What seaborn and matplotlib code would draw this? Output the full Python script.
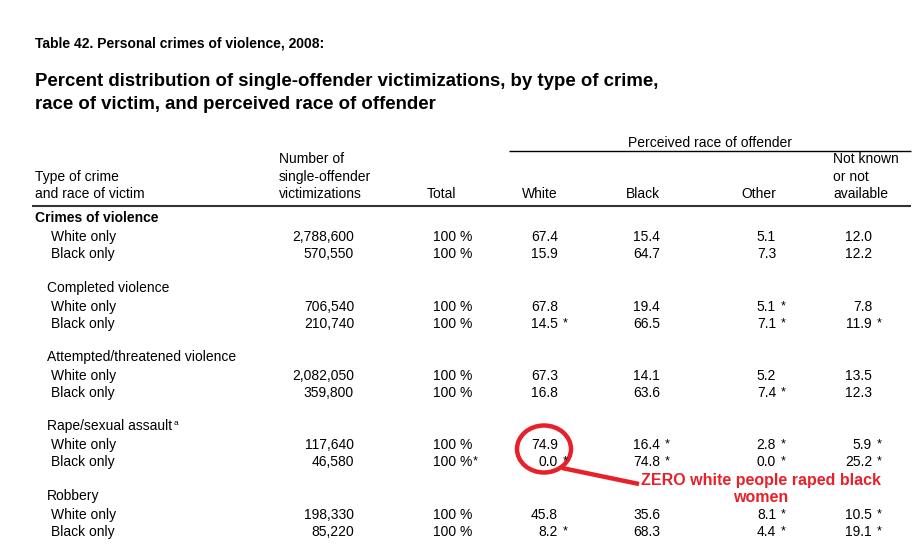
import matplotlib
matplotlib.use("Agg")
import matplotlib.pyplot as plt
from matplotlib.patches import Ellipse
import seaborn as sns

# Table 42 values
groups = ["Crimes of violence", "Completed violence", "Attempted/threatened violence",
          "Rape/sexual assault", "Robbery"]
victim_rows = ["White only", "Black only"]
counts = [["2,788,600", "570,550"], ["706,540", "210,740"], ["2,082,050", "359,800"],
          ["117,640", "46,580"], ["198,330", "85,220"]]
total_flag = [[False, False], [False, False], [False, False], [False, True], [False, False]]

white = [[67.4, 15.9], [67.8, 14.5], [67.3, 16.8], [74.9, 0.0], [45.8, 8.2]]
white_star = [[0, 0], [0, 1], [0, 0], [0, 1], [0, 1]]
black = [[15.4, 64.7], [19.4, 66.5], [14.1, 63.6], [16.4, 74.8], [35.6, 68.3]]
black_star = [[0, 0], [0, 0], [0, 0], [1, 1], [0, 0]]
other = [[5.1, 7.3], [5.1, 7.1], [5.2, 7.4], [2.8, 0.0], [8.1, 4.4]]
other_star = [[0, 0], [1, 1], [0, 1], [1, 1], [1, 1]]
unknown = [[12.0, 12.2], [7.8, 11.9], [13.5, 12.3], [5.9, 25.2], [10.5, 19.1]]
unknown_star = [[0, 0], [0, 1], [0, 0], [1, 1], [1, 1]]

race_cols = ["White", "Black", "Other"]

sns.set_theme(style="white")
plt.rcParams["font.family"] = ["Liberation Sans", "DejaVu Sans"]
plt.rcParams["text.color"] = "black"

fig = plt.figure(figsize=(9.21, 5.53), dpi=100)
ax = fig.add_axes([0, 0, 1, 1])
ax.set_xlim(0, 921)
ax.set_ylim(553, 0)
ax.axis("off")

fs = 10
bl = 5  # offset from visual centre to baseline


def put(x, y, s, **kw):
    kw.setdefault("fontsize", fs)
    ax.text(x, round(y) + bl, s, va="baseline", **kw)


put(35, 42, "Table 42. Personal crimes of violence, 2008:", fontweight="bold")
put(35, 81, "Percent distribution of single-offender victimizations, by type of crime,",
    fontsize=13.4, fontweight="bold")
put(35, 104, "race of victim, and perceived race of offender", fontsize=13.4, fontweight="bold")

# headers
put(710, 142, "Perceived race of offender", ha="center")
ax.hlines(151, 509, 911, color="black", lw=1)
for y, s in zip([158, 176, 193], ["Number of", "single-offender", "victimizations"]):
    put(279, y, s)
for y, s in zip([176, 193], ["Type of crime", "and race of victim"]):
    put(35, y, s)
put(456, 193, "Total", ha="right")
col_x = [558, 660, 776, 872]
for x, s in zip(col_x, race_cols):
    put(x, 193, s, ha="right")
for y, s in zip([158, 176, 193], ["Not known", "or not", "available"]):
    put(833, y, s)
ax.hlines(206, 32, 911, color="#333333", lw=1.5)

cols = [(white, white_star), (black, black_star), (other, other_star), (unknown, unknown_star)]
for g, name in enumerate(groups):
    y0 = 217 + round(g * 69.5)
    if g == 0:
        put(35, y0, name, fontweight="bold")
    else:
        put(47, y0, name)
        if name.startswith("Rape"):
            put(173.5, y0 - 5, "a", fontsize=6)
    for r, lab in enumerate(victim_rows):
        y = y0 + 19 + r * 17
        put(51, y, lab)
        put(354, y, counts[g][r], ha="right")
        put(433, y, "100 %")
        if total_flag[g][r]:
            put(473, y - 2, "*", fontsize=9)
        for x, (vals, stars) in zip(col_x, cols):
            put(x, y, f"{vals[g][r]:.1f}", ha="right")
            if stars[g][r]:
                put(x + 5, y - 2, "*", fontsize=9)

# red annotation
red = "#e8202a"
ax.add_patch(Ellipse((544, 449), 54, 47, fill=False, edgecolor=red, lw=3.2))
ax.plot([562, 639], [468, 484], color=red, lw=3.2, solid_capstyle="butt")
put(761, 480, "ZERO white people raped black", fontsize=11.5, fontweight="bold",
    color=red, ha="center")
put(761, 497, "women", fontsize=11.5, fontweight="bold", color=red, ha="center")

fig.savefig("out.png", dpi=100)
